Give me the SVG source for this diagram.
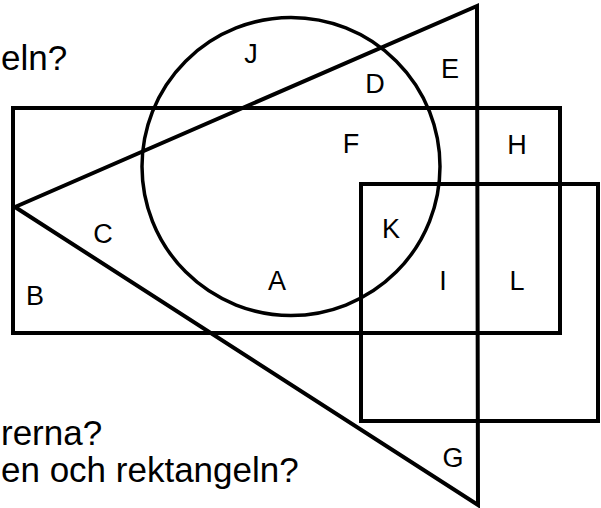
<svg xmlns="http://www.w3.org/2000/svg" width="601" height="508" viewBox="0 0 601 508">
<style>
.s{fill:none;stroke:#000;stroke-width:4;stroke-linejoin:miter}
.c{fill:none;stroke:#000;stroke-width:3.5}
.l{font-family:"Liberation Sans",Arial,sans-serif;font-size:27px;fill:#000;text-anchor:middle}
.t{font-family:"Liberation Sans",Arial,sans-serif;font-size:35px;fill:#000}
</style>
<rect width="601" height="508" fill="#fff"/>
<g id="shapes">
<rect id="rect-big" class="s" x="13" y="108" width="547" height="225"/>
<rect id="rect-small" class="s" x="361" y="184" width="237" height="237"/>
<circle id="circle" class="c" cx="291" cy="166.5" r="149"/>
<polygon id="triangle" class="s" points="15,207 477,6 478,505"/>
</g>
<g id="labels">
<text class="l" x="251" y="63">J</text>
<text class="l" x="375" y="93">D</text>
<text class="l" x="450" y="78">E</text>
<text class="l" x="351" y="153">F</text>
<text class="l" x="517" y="154">H</text>
<text class="l" x="103" y="243">C</text>
<text class="l" x="391" y="238">K</text>
<text class="l" x="277" y="290">A</text>
<text class="l" x="443" y="290">I</text>
<text class="l" x="517" y="290">L</text>
<text class="l" x="35" y="305">B</text>
<text class="l" x="453" y="467">G</text>
</g>
<g id="questions">
<text class="t" x="1" y="70">eln?</text>
<text class="t" x="1" y="445">rerna?</text>
<text class="t" x="1" y="482">en och rektangeln?</text>
</g>
</svg>
